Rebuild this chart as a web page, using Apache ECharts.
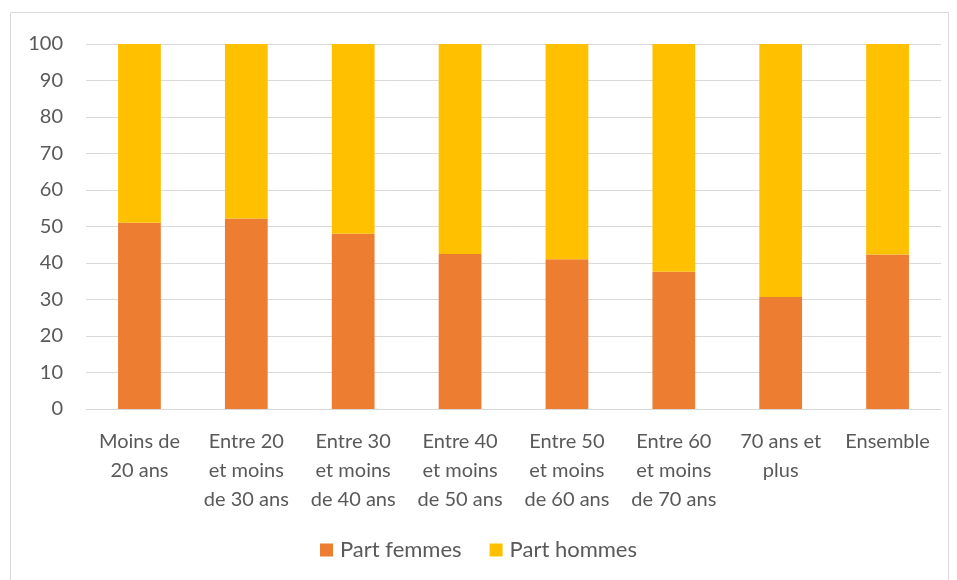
<!DOCTYPE html>
<html>
<head>
<meta charset="utf-8">
<script src="https://cdn.jsdelivr.net/npm/echarts@6/dist/echarts.min.js"></script>
<style>
  html, body { margin: 0; padding: 0; background: #fff; }
  #chart { width: 957px; height: 580px; }
</style>
</head>
<body>
<div id="chart"></div>
<script>
var categories = ['Moins de\n20 ans', 'Entre 20\net moins\nde 30 ans', 'Entre 30\net moins\nde 40 ans',
  'Entre 40\net moins\nde 50 ans', 'Entre 50\net moins\nde 60 ans', 'Entre 60\net moins\nde 70 ans',
  '70 ans et\nplus', 'Ensemble'];
var partFemmes = [51.0, 52.2, 48.0, 42.5, 41.0, 37.6, 30.7, 42.3];
var partHommes = [49.0, 47.8, 52.0, 57.5, 59.0, 62.4, 69.3, 57.7];

var chart = echarts.init(document.getElementById('chart'));
var txt = '#595959';
var font = 'Lato, "Open Sans", sans-serif';

var option = {
  animation: false,
  textStyle: { fontFamily: font },
  color: ['#ED7D31', '#FFC000'],
  graphic: [{
    type: 'rect',
    shape: { x: 10.5, y: 12.5, width: 938, height: 580 },
    style: { fill: 'none', stroke: '#d9d9d9', lineWidth: 1 }
  }],
  grid: { left: 86, right: 16, top: 44, bottom: 171 },
  legend: {
    bottom: 14,
    left: 'center',
    itemWidth: 13,
    itemHeight: 13,
    itemGap: 28,
    icon: 'rect',
    textStyle: { color: txt, fontSize: 22, fontFamily: font, padding: [0, 0, 0, 2] },
    data: ['Part femmes', 'Part hommes']
  },
  xAxis: {
    type: 'category',
    data: categories,
    axisLine: { lineStyle: { color: '#d9d9d9', width: 1 } },
    axisTick: { show: false },
    axisLabel: { color: txt, fontSize: 20, lineHeight: 29, margin: 18, interval: 0, fontFamily: font }
  },
  yAxis: {
    type: 'value',
    min: 0,
    max: 100,
    interval: 10,
    axisLine: { show: false },
    axisTick: { show: false },
    splitLine: { lineStyle: { color: '#d9d9d9', width: 1 } },
    axisLabel: { color: txt, fontSize: 20, margin: 23, fontFamily: font }
  },
  series: [
    { name: 'Part femmes', type: 'bar', stack: 'total', barWidth: '40%', data: partFemmes },
    { name: 'Part hommes', type: 'bar', stack: 'total', barWidth: '40%', data: partHommes }
  ]
};
chart.setOption(option);
</script>
</body>
</html>
